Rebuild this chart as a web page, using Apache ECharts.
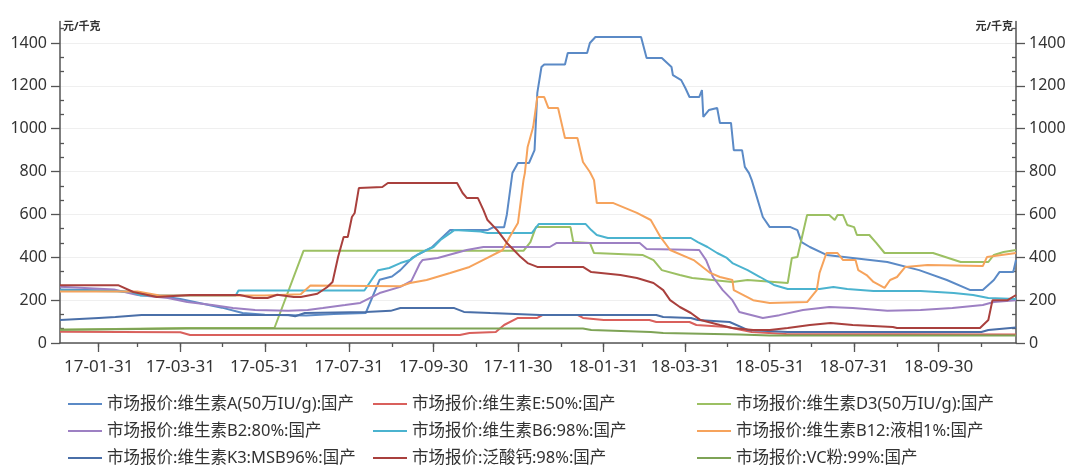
<!DOCTYPE html>
<html><head><meta charset="utf-8">
<script src="https://cdn.jsdelivr.net/npm/echarts@6/dist/echarts.min.js"></script>
<style>html,body{margin:0;padding:0;background:#fff}#c{width:1081px;height:469px}</style>
</head><body><div id="c"></div>
<script>
const startDate = '2017-01-03';
const endDate = '2018-11-25';
const unitLabel = '元/千克';

const names = [
  '市场报价:维生素A(50万IU/g):国产',
  '市场报价:维生素E:50%:国产',
  '市场报价:维生素D3(50万IU/g):国产',
  '市场报价:维生素B2:80%:国产',
  '市场报价:维生素B6:98%:国产',
  '市场报价:维生素B12:液相1%:国产',
  '市场报价:维生素K3:MSB96%:国产',
  '市场报价:泛酸钙:98%:国产',
  '市场报价:VC粉:99%:国产'
];
const colors = ['#5b8ac6', '#d9605c', '#9cc063', '#9d80c3', '#4bb3cf', '#f6a35c', '#4a6fa8', '#a9403d', '#7ea356'];

const vitA = [['2017-01-03',250],['2017-02-10',245],['2017-03-10',225],['2017-03-31',205],['2017-04-30',165],['2017-05-15',140],['2017-05-31',132],['2017-06-30',128],['2017-07-20',135],['2017-08-12',140],['2017-08-22',295],['2017-08-31',310],['2017-09-06',340],['2017-09-15',400],['2017-09-29',448],['2017-10-12',527],['2017-11-08',527],['2017-11-12',540],['2017-11-20',540],['2017-11-22',600],['2017-11-26',793],['2017-11-30',840],['2017-12-08',840],['2017-12-12',900],['2017-12-14',1167],['2017-12-17',1288],['2017-12-19',1300],['2018-01-03',1300],['2018-01-05',1353],['2018-01-19',1353],['2018-01-21',1400],['2018-01-25',1428],['2018-02-27',1428],['2018-03-03',1330],['2018-03-14',1330],['2018-03-21',1288],['2018-03-22',1250],['2018-03-28',1227],['2018-03-31',1190],['2018-04-03',1148],['2018-04-10',1148],['2018-04-12',1180],['2018-04-13',1055],['2018-04-17',1087],['2018-04-23',1097],['2018-04-25',1027],['2018-05-03',1027],['2018-05-05',900],['2018-05-11',900],['2018-05-13',822],['2018-05-16',793],['2018-05-18',760],['2018-05-26',588],['2018-05-31',541],['2018-06-15',541],['2018-06-20',527],['2018-06-23',471],['2018-06-29',448],['2018-07-11',411],['2018-07-30',397],['2018-08-24',378],['2018-09-16',340],['2018-10-06',294],['2018-10-23',247],['2018-11-01',247],['2018-11-09',294],['2018-11-13',331],['2018-11-23',331],['2018-11-25',387]];

const vitE = [['2017-01-03',52],['2017-03-31',50],['2017-04-07',37],['2017-10-19',37],['2017-10-26',47],['2017-11-14',51],['2017-11-20',84],['2017-11-30',117],['2017-12-14',117],['2017-12-18',131],['2018-01-12',131],['2018-01-16',117],['2018-01-31',107],['2018-03-05',107],['2018-03-10',98],['2018-04-03',98],['2018-04-08',84],['2018-04-30',75],['2018-05-18',51],['2018-06-12',42],['2018-11-25',40]];

const vitD3 = [['2017-01-03',62],['2017-04-05',70],['2017-06-07',70],['2017-06-28',430],['2017-12-04',430],['2017-12-09',471],['2017-12-13',541],['2018-01-07',541],['2018-01-09',471],['2018-01-21',467],['2018-01-24',420],['2018-02-28',411],['2018-03-08',387],['2018-03-14',340],['2018-03-27',317],['2018-04-05',303],['2018-05-04',285],['2018-05-15',294],['2018-06-13',280],['2018-06-16',397],['2018-06-20',401],['2018-06-27',597],['2018-07-13',597],['2018-07-17',574],['2018-07-19',597],['2018-07-23',597],['2018-07-26',551],['2018-07-31',541],['2018-08-02',504],['2018-08-11',504],['2018-08-16',467],['2018-08-22',420],['2018-09-26',420],['2018-10-16',378],['2018-11-05',378],['2018-11-09',411],['2018-11-16',425],['2018-11-25',434]];

const vitB2 = [['2017-01-03',262],['2017-02-11',250],['2017-02-28',224],['2017-03-22',210],['2017-04-05',191],['2017-04-23',177],['2017-05-08',163],['2017-05-24',154],['2017-06-17',150],['2017-07-01',154],['2017-07-12',163],['2017-07-28',177],['2017-08-08',187],['2017-08-22',233],['2017-09-06',262],['2017-09-14',290],['2017-09-20',370],['2017-09-22',387],['2017-10-03',397],['2017-10-24',434],['2017-11-05',448],['2017-12-23',448],['2017-12-28',467],['2018-02-26',467],['2018-03-03',439],['2018-04-10',434],['2018-04-15',387],['2018-04-20',308],['2018-04-27',247],['2018-05-04',200],['2018-05-09',145],['2018-05-26',117],['2018-06-07',130],['2018-06-24',154],['2018-07-13',168],['2018-07-30',163],['2018-08-24',150],['2018-09-17',154],['2018-10-10',163],['2018-11-01',177],['2018-11-09',191],['2018-11-25',200]];

const vitB6 = [['2017-01-03',245],['2017-02-23',240],['2017-03-02',222],['2017-05-10',222],['2017-05-12',245],['2017-08-11',245],['2017-08-21',340],['2017-08-29',350],['2017-09-06',373],['2017-09-13',387],['2017-09-18',411],['2017-09-25',434],['2017-09-30',448],['2017-10-05',481],['2017-10-12',513],['2017-10-15',527],['2017-11-03',520],['2017-11-08',513],['2017-12-10',513],['2017-12-15',555],['2018-01-18',555],['2018-01-22',527],['2018-01-26',504],['2018-02-03',490],['2018-04-04',490],['2018-04-09',471],['2018-04-16',448],['2018-04-23',420],['2018-04-30',397],['2018-05-04',373],['2018-05-15',340],['2018-05-24',308],['2018-06-03',271],['2018-06-13',252],['2018-07-06',252],['2018-07-16',261],['2018-07-26',252],['2018-08-14',243],['2018-09-17',243],['2018-10-11',233],['2018-10-25',224],['2018-11-05',210],['2018-11-25',205]];

const vitB12 = [['2017-01-03',240],['2017-02-28',240],['2017-03-16',222],['2017-05-31',222],['2017-06-26',228],['2017-07-03',268],['2017-09-06',265],['2017-09-13',280],['2017-09-25',294],['2017-10-12',327],['2017-10-26',355],['2017-11-09',401],['2017-11-19',434],['2017-11-24',495],['2017-11-30',560],['2017-12-04',760],['2017-12-05',793],['2017-12-07',915],['2017-12-11',1008],['2017-12-14',1148],['2017-12-19',1148],['2017-12-22',1097],['2017-12-29',1097],['2018-01-03',957],['2018-01-12',957],['2018-01-16',845],['2018-01-21',798],['2018-01-24',760],['2018-01-26',653],['2018-02-07',653],['2018-02-24',607],['2018-03-06',574],['2018-03-13',495],['2018-03-20',434],['2018-04-06',387],['2018-04-18',327],['2018-04-25',308],['2018-05-04',294],['2018-05-05',247],['2018-05-19',200],['2018-05-31',187],['2018-06-27',191],['2018-07-04',247],['2018-07-06',327],['2018-07-11',420],['2018-07-19',420],['2018-07-23',387],['2018-08-01',387],['2018-08-03',340],['2018-08-09',317],['2018-08-14',285],['2018-08-22',257],['2018-08-26',294],['2018-08-31',308],['2018-09-06',355],['2018-09-22',364],['2018-11-01',359],['2018-11-04',401],['2018-11-25',420]];

const vitK3 = [['2017-01-03',107],['2017-01-31',117],['2017-02-12',121],['2017-03-03',131],['2017-06-17',131],['2017-06-22',125],['2017-06-29',140],['2017-08-12',145],['2017-08-30',150],['2017-09-06',163],['2017-10-15',163],['2017-10-22',145],['2017-11-10',140],['2017-12-16',131],['2018-03-10',131],['2018-03-15',121],['2018-04-04',117],['2018-04-09',107],['2018-05-02',98],['2018-05-15',61],['2018-06-13',51],['2018-10-31',51],['2018-11-05',61],['2018-11-25',72]];

const pantothenate = [['2017-01-03',270],['2017-02-14',270],['2017-02-25',238],['2017-03-14',215],['2017-04-07',224],['2017-05-13',224],['2017-05-23',210],['2017-06-02',210],['2017-06-09',225],['2017-06-21',215],['2017-06-26',215],['2017-07-08',230],['2017-07-15',260],['2017-07-19',285],['2017-07-23',401],['2017-07-27',495],['2017-07-30',495],['2017-08-02',588],['2017-08-04',607],['2017-08-07',723],['2017-08-08',728],['2017-08-24',728],['2017-08-28',747],['2017-10-17',747],['2017-10-21',700],['2017-10-24',677],['2017-11-01',677],['2017-11-05',621],['2017-11-08',574],['2017-11-15',527],['2017-11-22',467],['2017-11-27',434],['2017-12-02',401],['2017-12-07',373],['2017-12-14',355],['2018-01-16',355],['2018-01-22',331],['2018-02-12',317],['2018-02-24',303],['2018-03-08',280],['2018-03-15',247],['2018-03-20',200],['2018-03-27',168],['2018-04-04',140],['2018-04-11',107],['2018-04-25',84],['2018-05-04',70],['2018-05-19',61],['2018-05-31',61],['2018-06-13',70],['2018-06-29',84],['2018-07-14',93],['2018-07-30',84],['2018-08-28',75],['2018-08-31',70],['2018-10-30',70],['2018-11-05',107],['2018-11-08',200],['2018-11-19',200],['2018-11-25',224]];

const vitC = [['2017-01-03',62],['2017-04-07',68],['2018-01-16',68],['2018-01-22',61],['2018-03-06',51],['2018-03-15',47],['2018-05-09',40],['2018-05-31',35],['2018-11-25',35]];

const seriesData = [vitA, vitE, vitD3, vitB2, vitB6, vitB12, vitK3, pantothenate, vitC];

// daily category axis
function pad(n) { return (n < 10 ? '0' : '') + n; }
function fmt(d) { return d.getUTCFullYear() + '-' + pad(d.getUTCMonth() + 1) + '-' + pad(d.getUTCDate()); }
const days = [];
const monthEnd = {};
(function () {
  let d = new Date(startDate + 'T00:00:00Z');
  const e = new Date(endDate + 'T00:00:00Z');
  while (d <= e) {
    const n = new Date(d.getTime() + 86400000);
    const s = fmt(d);
    days.push(s);
    if (n.getUTCMonth() !== d.getUTCMonth()) monthEnd[s] = (d.getUTCMonth() + 1);
    d = n;
  }
})();
const isMonthEnd = (i, v) => monthEnd[v] !== undefined;
const isLabelEnd = (i, v) => monthEnd[v] !== undefined && monthEnd[v] % 2 === 1;

const FONT = '"Noto Sans", "Noto Sans CJK SC", sans-serif';
const axisColor = '#555555';

const chart = echarts.init(document.getElementById('c'), null, { renderer: 'canvas' });

const yBase = { type: 'value', min: 0, max: 1500, interval: 200 };
const plain = v => String(v);

const option = {
  animation: false,
  backgroundColor: '#ffffff',
  textStyle: { fontFamily: FONT },
  grid: { left: 60, right: 65, top: 21.6, bottom: 126, containLabel: false },
  xAxis: [
    {
      type: 'category', data: days, boundaryGap: false, position: 'bottom',
      axisLine: { show: true, lineStyle: { color: axisColor, width: 1.5 } },
      axisTick: { show: true, interval: isMonthEnd, length: 4, lineStyle: { color: axisColor, width: 1.3 } },
      axisLabel: { show: true, interval: isLabelEnd, margin: 16, fontSize: 17, color: '#333', fontFamily: FONT,
        formatter: v => v.slice(2) },
      splitLine: { show: false }
    },
    {
      type: 'category', data: days, boundaryGap: false, position: 'bottom',
      axisLine: { show: false },
      axisTick: { show: true, interval: isLabelEnd, length: 9, lineStyle: { color: axisColor, width: 1.3 } },
      axisLabel: { show: false },
      splitLine: { show: false }
    }
  ],
  yAxis: [
    Object.assign({}, yBase, {
      position: 'left',
      name: unitLabel, nameLocation: 'end', nameGap: -5,
      nameTextStyle: { align: 'left', verticalAlign: 'middle', fontSize: 11, color: '#333', padding: [0, 0, 0, 3], fontWeight: 'bold' },
      axisLine: { show: true, lineStyle: { color: axisColor, width: 1.5 } },
      axisTick: { show: true, length: 9, lineStyle: { color: axisColor, width: 1.3 } },
      axisLabel: { show: true, showMaxLabel: false, margin: 13, fontSize: 16, color: '#333', fontFamily: FONT, formatter: plain },
      splitLine: { show: true, showMaxLine: false, lineStyle: { color: '#efefef', width: 1 } }
    }),
    Object.assign({}, yBase, {
      position: 'left',
      axisLine: { show: false },
      axisTick: { show: false, inside: true },
      minorTick: { show: true, splitNumber: 3, length: 4, lineStyle: { color: axisColor, width: 1.3 } },
      axisLabel: { show: false },
      splitLine: { show: false }
    }),
    Object.assign({}, yBase, {
      position: 'right',
      name: unitLabel, nameLocation: 'end', nameGap: -5,
      nameTextStyle: { align: 'right', verticalAlign: 'middle', fontSize: 11, color: '#333', padding: [0, 3, 0, 0], fontWeight: 'bold' },
      axisLine: { show: true, lineStyle: { color: axisColor, width: 1.5 } },
      axisTick: { show: true, length: 9, lineStyle: { color: axisColor, width: 1.3 } },
      axisLabel: { show: true, showMaxLabel: false, margin: 13, fontSize: 16, color: '#333', fontFamily: FONT, formatter: plain },
      splitLine: { show: false }
    }),
    Object.assign({}, yBase, {
      position: 'right',
      axisLine: { show: false },
      axisTick: { show: false, inside: true },
      minorTick: { show: true, splitNumber: 3, length: 4, lineStyle: { color: axisColor, width: 1.3 } },
      axisLabel: { show: false },
      splitLine: { show: false }
    })
  ],
  legend: [0, 1, 2].map(col => ({
    orient: 'vertical',
    left: [68, 373, 697][col],
    top: 394,
    itemWidth: 34,
    itemHeight: 2,
    itemGap: 7,
    icon: 'rect',
    padding: 0,
    selectedMode: false,
    textStyle: { fontSize: 16.5, color: '#333', fontFamily: FONT, lineHeight: 20 },
    data: [names[col], names[col + 3], names[col + 6]]
  })),
  series: names.map((n, i) => ({
    name: n,
    type: 'line',
    xAxisIndex: 0,
    yAxisIndex: 0,
    data: seriesData[i],
    showSymbol: false,
    symbol: 'none',
    color: colors[i],
    lineStyle: { width: 2, color: colors[i] },
    emphasis: { disabled: true },
    z: 2
  }))
};
chart.setOption(option);
</script>
</body></html>
